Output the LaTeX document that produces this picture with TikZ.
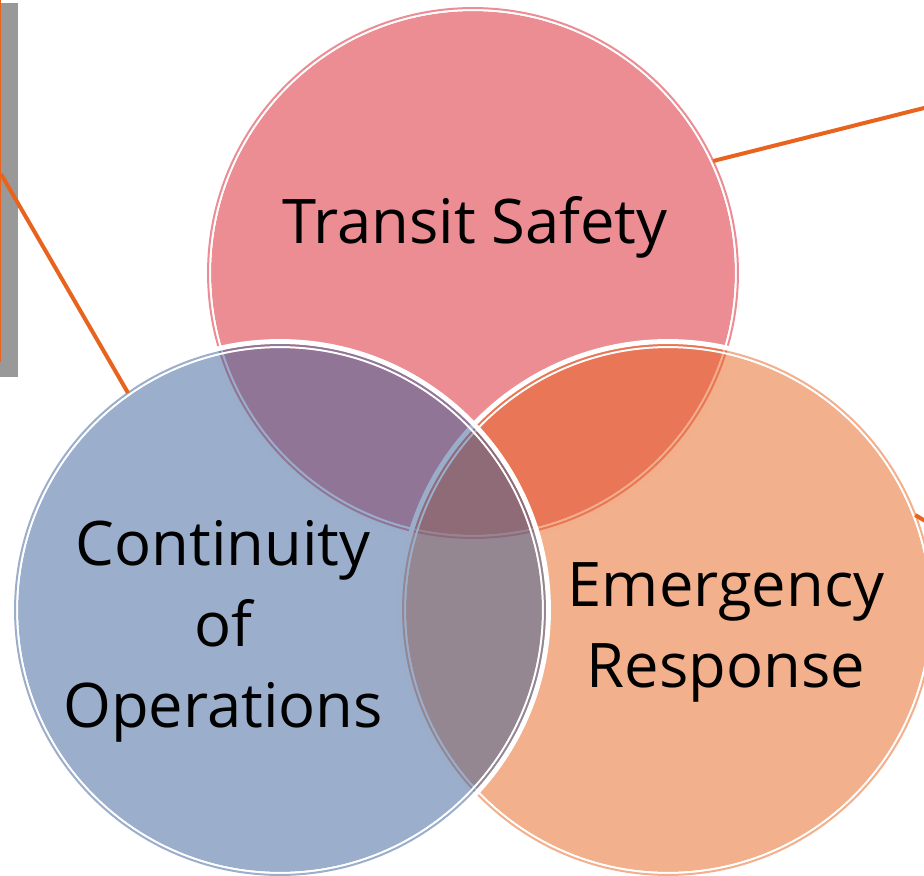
\documentclass[tikz,border=0pt]{standalone}
\usepackage{fontspec}
\setmainfont{Open Sans}
\usetikzlibrary{shadows}
\definecolor{safetyred}{RGB}{217,27,41}
\definecolor{opsblue}{RGB}{55,95,153}
\definecolor{responseorange}{RGB}{231,97,25}
\definecolor{leaderorange}{RGB}{232,100,30}
\tikzset{
  venn/.style={circle, inner sep=0pt, outer sep=0.06cm, minimum size=10.48cm, fill=#1, fill opacity=.5},
  band/.style={white, line width=0.1cm},
  gap/.style={white, line width=0.04cm},
  rim/.style={draw=#1, draw opacity=.5, line width=0.04cm},
  venntext/.style={font=\fontsize{35}{46}\selectfont, align=center, anchor=base},
  leader/.style={leaderorange, line width=0.08cm},
  callout/.style={rectangle, draw=leaderorange, line width=0.04cm, fill=white,
    drop shadow={shadow xshift=0.36cm, shadow yshift=-0.32cm, fill=black!40, opacity=1}}
}
\begin{document}
\begin{tikzpicture}[x=0.02cm, y=-0.02cm]
\useasboundingbox (0,0) rectangle (924,876);
\clip (0,0) rectangle (924,876);

% Note box, mostly off the page
\node[callout, minimum width=6cm, minimum height=7.48cm, anchor=south east] (note) at (1,362) {};

% Transit Safety
\coordinate (ts) at (473,273);
\draw[band] (ts) circle[radius=5.37cm];
\node[venn=safetyred] (safety) at (ts) {};
\draw[gap] (ts) circle[radius=5.26cm];
\draw[rim=safetyred] (ts) circle[radius=5.30cm];

% Emergency Response
\coordinate (er) at (668,610);
\draw[band] (er) circle[radius=5.37cm];
\node[venn=responseorange] (response) at (er) {};
\draw[gap] (er) circle[radius=5.26cm];
\draw[rim=responseorange] (er) circle[radius=5.30cm];

% Continuity of Operations
\coordinate (co) at (280,610);
\draw[band] (co) circle[radius=5.37cm];
\node[venn=opsblue] (continuity) at (co) {};
\draw[gap] (co) circle[radius=5.26cm];
\draw[rim=opsblue] (co) circle[radius=5.30cm];

% Leader lines
\coordinate (ts far) at (940,104);
\coordinate (er far) at (950,536);
\draw[leader] (note.east) -- (continuity.125);
\draw[leader] (safety.25) -- (ts far);
\draw[leader] (response.21) -- (er far);

% Labels
\node[venntext] (safetytext) at (475,243) {Transit Safety};
\node[venntext] (opstext) at (223,727) {Continuity\\of\\Operations};
\node[venntext] (responsetext) at (726,687) {Emergency\\Response};
\end{tikzpicture}
\end{document}
